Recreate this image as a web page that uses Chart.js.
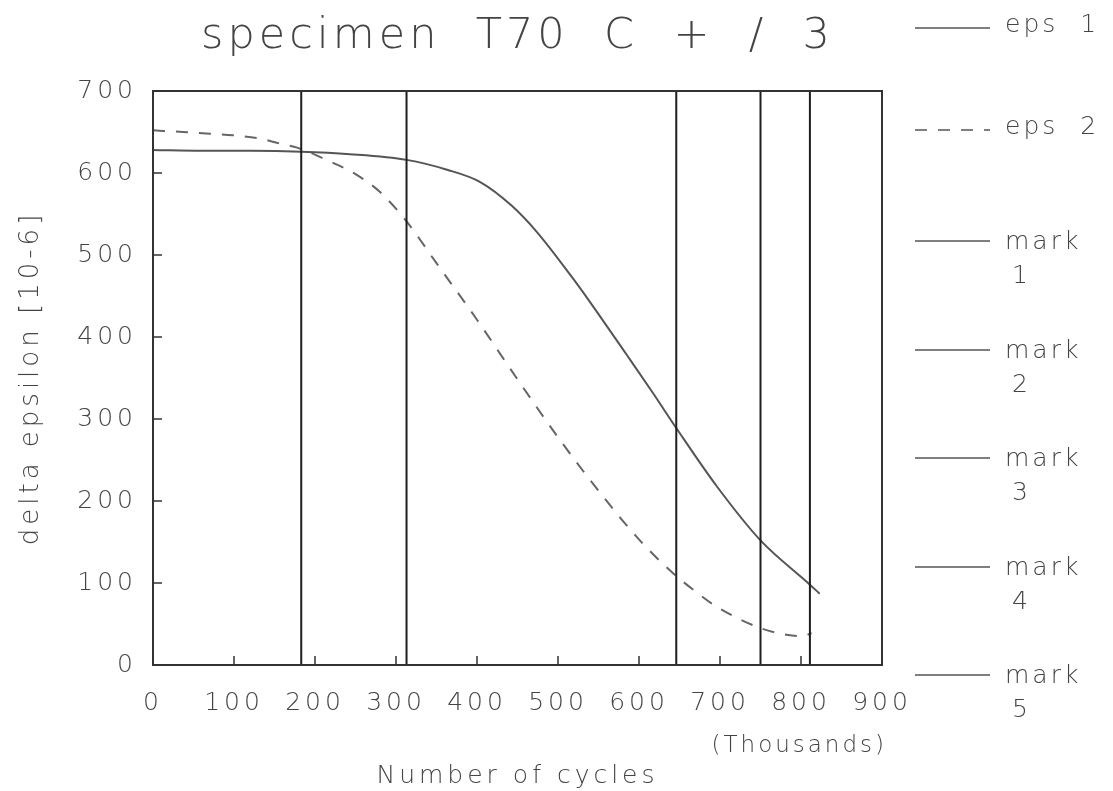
<!DOCTYPE html>
<html>
<head>
<meta charset="utf-8">
<title>specimen T70 C + / 3</title>
<script src="https://cdn.jsdelivr.net/npm/chart.js@4.4.1/dist/chart.umd.min.js"></script>
<style>
    html, body { margin: 0; padding: 0; background: #fff; }
    #wrap { position: relative; width: 1113px; height: 791px; }
</style>
</head>
<body>
<div id="wrap"><canvas id="chart" width="1113" height="791"></canvas></div>
<script>
    'use strict';

    // --- data (cycles in thousands, delta epsilon in 10-6) ---
    var eps1Cycles = [0, 60, 120, 183, 243, 313, 363, 404, 443, 474, 515, 540, 585, 617, 646, 696, 750, 811, 823];
    var eps1Values = [628, 627, 627, 626, 623, 616, 604, 589, 560, 528, 476, 442, 378, 332, 289, 218, 152, 98, 87];

    var eps2Cycles = [0, 37, 70, 99, 132, 160, 178, 214, 251, 280, 313, 350, 400, 453, 502, 552, 601, 642, 672, 696, 750, 782, 802, 813];
    var eps2Values = [652, 650, 648, 646, 642, 635, 631, 616, 598, 577, 541, 490, 421, 344, 275, 210, 152, 112, 88, 71, 45, 37, 35, 39];

    var markCycles = [183, 313, 646, 750, 811];

    var xTicks = [0, 100, 200, 300, 400, 500, 600, 700, 800, 900];
    var yTicks = [0, 100, 200, 300, 400, 500, 600, 700];

    var seriesLabels = ['eps  1', 'eps  2'];
    var markLabels = ['1', '2', '3', '4', '5'];

    var FONT = '"DejaVu Sans", "Liberation Sans", sans-serif';
    var WEIGHT = '200';
    var TEXT = '#444';

    function toPoints(xs, ys) {
        var pts = [];
        for (var i = 0; i < xs.length; i++) {
            pts.push({ x: xs[i], y: ys[i] });
        }
        return pts;
    }

    var datasets = [];
    // vertical marks first, curves are drawn over them
    markCycles.forEach(function (m, i) {
        datasets.push({
            label: 'mark ' + markLabels[i],
            data: [{ x: m, y: yTicks[0] }, { x: m, y: yTicks[yTicks.length - 1] }],
            borderColor: '#1e1e1e',
            borderWidth: 2,
            pointRadius: 0,
            legendKind: 'mark',
            legendText: markLabels[i]
        });
    });
    datasets.push({
        label: seriesLabels[0],
        data: toPoints(eps1Cycles, eps1Values),
        borderColor: '#555',
        borderWidth: 2,
        pointRadius: 0,
        cubicInterpolationMode: 'monotone',
        legendKind: 'eps'
    });
    datasets.push({
        label: seriesLabels[1],
        data: toPoints(eps2Cycles, eps2Values),
        borderColor: '#666',
        borderWidth: 2,
        borderDash: [12, 11],
        pointRadius: 0,
        cubicInterpolationMode: 'monotone',
        legendKind: 'eps'
    });

    // letter spacing for the wide plotter look
    var spacingPlugin = {
        id: 'spacing',
        beforeDraw: function (chart) {
            chart.ctx.letterSpacing = '4px';
        }
    };

    // box, inward ticks, title, side legend
    var framePlugin = {
        id: 'frame',
        afterDraw: function (chart) {
            var ctx = chart.ctx;
            var a = chart.chartArea;
            var xs = chart.scales.x;
            var ys = chart.scales.y;

            ctx.save();
            ctx.strokeStyle = '#333';
            ctx.lineWidth = 2;
            ctx.strokeRect(a.left, a.top, a.right - a.left, a.bottom - a.top);

            ctx.lineWidth = 1.5;
            ctx.beginPath();
            xTicks.forEach(function (v) {
                var px = xs.getPixelForValue(v);
                ctx.moveTo(px, a.bottom);
                ctx.lineTo(px, a.bottom - 9);
            });
            yTicks.forEach(function (v) {
                var py = ys.getPixelForValue(v);
                ctx.moveTo(a.left, py);
                ctx.lineTo(a.left + 9, py);
            });
            ctx.stroke();

            ctx.fillStyle = TEXT;
            ctx.letterSpacing = '4px';
            ctx.font = WEIGHT + ' 43px ' + FONT;
            ctx.textAlign = 'center';
            ctx.textBaseline = 'middle';
            ctx.fillText('specimen  T70  C  +  /  3', (a.left + a.right) / 2, 37);

            ctx.letterSpacing = '3px';
            ctx.font = WEIGHT + ' 23px ' + FONT;
            ctx.textAlign = 'right';
            ctx.fillText('(Thousands)', 887, 746);

            // legend on the right side
            var rowY = [28, 130, 241, 350, 458, 567, 675];
            var ds = chart.data.datasets;
            var order = [];
            ds.forEach(function (d, i) { if (d.legendKind === 'eps') order.push(i); });
            ds.forEach(function (d, i) { if (d.legendKind === 'mark') order.push(i); });

            ctx.textAlign = 'left';
            ctx.letterSpacing = '3px';
            ctx.font = WEIGHT + ' 25px ' + FONT;
            order.forEach(function (idx, r) {
                var d = ds[idx];
                var y = rowY[r];
                ctx.strokeStyle = '#555';
                ctx.lineWidth = 1.5;
                ctx.setLineDash(d.borderDash || []);
                ctx.beginPath();
                ctx.moveTo(915, y);
                ctx.lineTo(990, y);
                ctx.stroke();
                ctx.setLineDash([]);
                if (d.legendKind === 'eps') {
                    ctx.fillText(d.label, 1005, y - 3);
                } else {
                    ctx.fillText('mark', 1005, y + 1);
                    ctx.fillText(d.legendText, 1012, y + 35);
                }
            });
            ctx.restore();
        }
    };

    new Chart(document.getElementById('chart'), {
        type: 'line',
        data: { datasets: datasets },
        options: {
            responsive: false,
            animation: false,
            devicePixelRatio: 1,
            layout: { padding: { top: 91, right: 231, left: 0, bottom: 0 } },
            plugins: {
                legend: { display: false },
                tooltip: { enabled: false },
                title: { display: false }
            },
            scales: {
                x: {
                    type: 'linear',
                    min: xTicks[0],
                    max: xTicks[xTicks.length - 1],
                    afterBuildTicks: function (s) {
                        s.ticks = xTicks.map(function (v) { return { value: v }; });
                    },
                    afterFit: function (s) { s.height = 126; },
                    grid: { display: false, drawTicks: false },
                    border: { display: false },
                    ticks: {
                        color: TEXT,
                        padding: 23,
                        maxRotation: 0,
                        autoSkip: false,
                        font: { family: FONT, size: 25, weight: WEIGHT }
                    },
                    title: {
                        display: true,
                        text: 'Number of cycles',
                        color: TEXT,
                        font: { family: FONT, size: 25, weight: WEIGHT },
                        padding: { top: 0, bottom: 0 }
                    }
                },
                y: {
                    type: 'linear',
                    min: yTicks[0],
                    max: yTicks[yTicks.length - 1],
                    afterBuildTicks: function (s) {
                        s.ticks = yTicks.map(function (v) { return { value: v }; });
                    },
                    afterFit: function (s) { s.width = 153; },
                    grid: { display: false, drawTicks: false },
                    border: { display: false },
                    ticks: {
                        color: TEXT,
                        padding: 16,
                        autoSkip: false,
                        font: { family: FONT, size: 25, weight: WEIGHT }
                    },
                    title: {
                        display: true,
                        text: 'delta epsilon [10-6]',
                        color: TEXT,
                        font: { family: FONT, size: 26, weight: WEIGHT },
                        padding: { top: 16, bottom: 0 }
                    }
                }
            }
        },
        plugins: [spacingPlugin, framePlugin]
    });
</script>
</body>
</html>
